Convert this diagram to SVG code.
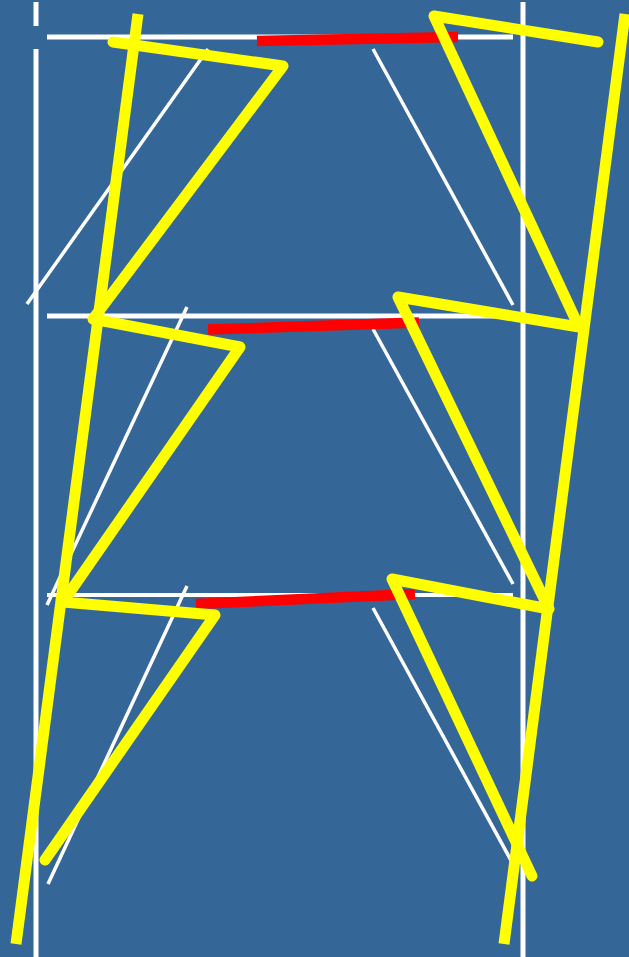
<svg xmlns="http://www.w3.org/2000/svg" width="629" height="957" viewBox="0 0 629 957">
<style>
.w{stroke:#ffffff;stroke-width:5;fill:none}
.h{stroke:#ffffff;stroke-width:5;fill:none}
.d{stroke:#ffffff;stroke-width:3.5;fill:none}
.r{stroke:#ff0000;stroke-width:10.5;fill:none}
.y{stroke:#ffff00;stroke-width:11;fill:none;stroke-linejoin:round;stroke-linecap:round}
.yb{stroke:#ffff00;stroke-width:11;fill:none}
</style>
<rect width="629" height="957" fill="#346798"/>
<g id="court">
<line class="w" x1="36" y1="2" x2="36" y2="26"/>
<line class="w" x1="36" y1="49" x2="36" y2="957"/>
<line class="w" x1="523" y1="2" x2="523" y2="957"/>
<line class="h" x1="47" y1="37" x2="513" y2="37"/>
<line class="h" x1="47" y1="316" x2="513" y2="316"/>
<line class="h" x1="47" y1="595" x2="513" y2="595" style="stroke-width:4"/>
<line class="d" x1="27" y1="304" x2="208" y2="49"/>
<line class="d" x1="373" y1="49" x2="513" y2="305"/>
<line class="d" x1="47" y1="605" x2="187" y2="307"/>
<line class="d" x1="373" y1="329" x2="513" y2="584"/>
<line class="d" x1="48" y1="884" x2="187" y2="586"/>
<line class="d" x1="373" y1="608" x2="513" y2="864"/>
</g>
<g id="red">
<line class="r" x1="257" y1="41" x2="458" y2="37"/>
<line class="r" x1="208" y1="329.5" x2="419" y2="322.5"/>
<line class="r" x1="196" y1="604" x2="415" y2="594"/>
</g>
<g id="yellow">
<line class="yb" x1="138" y1="14" x2="16" y2="944"/>
<line class="yb" x1="625" y1="14" x2="504" y2="944"/>
<polyline class="y" points="113,42 283,66 93,319 240,347 63,602 215,615 45,860"/>
<polyline class="y" points="598,42 434,16 579,327 398,297 549,609 392,579 532,876"/>
</g>
</svg>
